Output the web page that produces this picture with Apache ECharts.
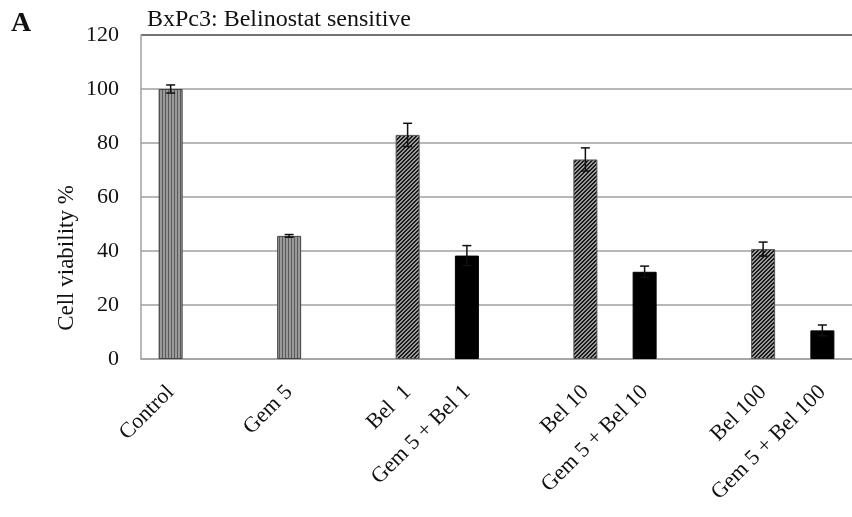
<!DOCTYPE html>
<html>
<head>
<meta charset="utf-8">
<script src="https://cdn.jsdelivr.net/npm/echarts@6/dist/echarts.min.js"></script>
<style>html,body{margin:0;padding:0;background:#fff;}#chart{width:852px;height:517px;}</style>
</head>
<body>
<div id="chart"></div>
<script>
const categories = ['Control', '', 'Gem 5', '', 'Bel  1', 'Gem 5 + Bel 1', '', 'Bel 10', 'Gem 5 + Bel 10', '', 'Bel 100', 'Gem 5 + Bel 100'];
const singleAgentValues = [100, null, 45.6, null, null, null, null, null, null, null, null, null];
const belinostatValues = [null, null, null, null, 83.0, null, null, 73.9, null, null, 40.7, null];
const combinationValues = [null, null, null, null, null, 38.3, null, null, 32.3, null, null, 10.6];
const errorValues = [1.5, null, 0.5, null, 4.3, 3.7, null, 4.3, 2.1, null, 2.6, 2.0];
const yTicks = [0, 20, 40, 60, 80, 100, 120];

function verticalPattern() {
  const c = document.createElement('canvas');
  c.width = 3; c.height = 3;
  const ctx = c.getContext('2d');
  ctx.fillStyle = '#9a9a9a'; ctx.fillRect(0, 0, 3, 3);
  ctx.fillStyle = '#5a5a5a'; ctx.fillRect(0, 0, 1, 3);
  return { image: c, repeat: 'repeat' };
}
function diagonalPattern() {
  const c = document.createElement('canvas');
  c.width = 4; c.height = 4;
  const ctx = c.getContext('2d');
  ctx.fillStyle = '#9a9a9a'; ctx.fillRect(0, 0, 4, 4);
  ctx.fillStyle = '#1a1a1a';
  for (let i = 0; i < 4; i++) {
    ctx.fillRect(i, 3 - i, 1, 1);
    ctx.fillRect((i + 1) % 4, 3 - i, 1, 1);
  }
  return { image: c, repeat: 'repeat' };
}

const errorData = [];
for (let i = 0; i < categories.length; i++) {
  const v = singleAgentValues[i] ?? belinostatValues[i] ?? combinationValues[i];
  if (v != null && errorValues[i] != null) errorData.push([i, v, errorValues[i]]);
}

const serif = '"Liberation Serif", "DejaVu Serif", serif';
const chart = echarts.init(document.getElementById('chart'), null, { renderer: 'canvas' });
const barCommon = {
  type: 'bar', stack: 'all', barWidth: 24,
  emphasis: { disabled: true }
};
chart.setOption({
  animation: false,
  grid: { left: 141, right: 0, top: 35, bottom: 158, containLabel: false },
  title: {
    text: 'BxPc3: Belinostat sensitive', left: 142, top: 3,
    textStyle: { fontFamily: serif, fontSize: 24, fontWeight: 'normal', color: '#111' }
  },
  graphic: [
    { type: 'text', left: 11, top: 10, style: { text: 'A', font: 'bold 28px ' + serif, fill: '#111' } },
    { type: 'text', x: 55, y: 258, rotation: Math.PI / 2, style: { text: 'Cell viability %', font: '23px ' + serif, fill: '#111', textAlign: 'center', textVerticalAlign: 'top' } }
  ],
  xAxis: {
    type: 'category', data: categories,
    axisLine: { lineStyle: { color: '#a0a0a0', width: 1.5 } },
    axisTick: { show: false },
    axisLabel: { rotate: 45, interval: 0, margin: 30, fontFamily: serif, fontSize: 22, color: '#111' }
  },
  yAxis: {
    type: 'value', min: yTicks[0], max: yTicks[yTicks.length - 1], interval: 20,
    axisLine: { show: true, lineStyle: { color: '#a0a0a0', width: 1.5 } },
    axisTick: { show: false },
    axisLabel: { margin: 22, fontFamily: serif, fontSize: 22, color: '#111' },
    splitLine: { lineStyle: { color: ['#a0a0a0', '#a0a0a0', '#a0a0a0', '#a0a0a0', '#a0a0a0', '#a0a0a0', '#444444'], width: 1.5 } }
  },
  series: [
    Object.assign({}, barCommon, { name: 'Single', data: singleAgentValues, itemStyle: { color: verticalPattern(), borderColor: '#444', borderWidth: 1 } }),
    Object.assign({}, barCommon, { name: 'Belinostat', data: belinostatValues, itemStyle: { color: diagonalPattern(), borderColor: '#555', borderWidth: 1 } }),
    Object.assign({}, barCommon, { name: 'Combination', data: combinationValues, itemStyle: { color: '#000', borderColor: '#000', borderWidth: 1 } }),
    {
      type: 'custom', name: 'Error', data: errorData, z: 10,
      renderItem: function (params, api) {
        const x = api.value(0), m = api.value(1), e = api.value(2);
        const top = api.coord([x, m + e]);
        const bot = api.coord([x, m - e]);
        const hw = 4.5;
        const style = { stroke: '#111', lineWidth: 1.5 };
        return {
          type: 'group', children: [
            { type: 'line', shape: { x1: top[0], y1: top[1], x2: bot[0], y2: bot[1] }, style },
            { type: 'line', shape: { x1: top[0] - hw, y1: top[1], x2: top[0] + hw, y2: top[1] }, style },
            { type: 'line', shape: { x1: bot[0] - hw, y1: bot[1], x2: bot[0] + hw, y2: bot[1] }, style }
          ]
        };
      }
    }
  ]
});
</script>
</body>
</html>
